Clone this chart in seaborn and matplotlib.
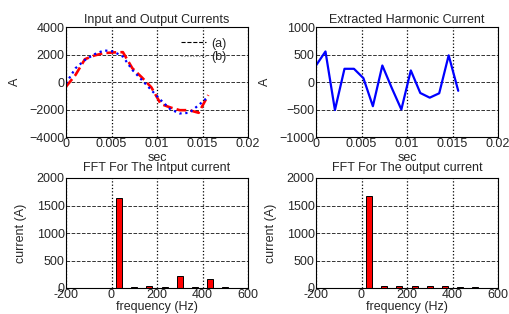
import matplotlib
matplotlib.use("Agg")
import matplotlib.pyplot as plt
from matplotlib.lines import Line2D
import seaborn as sns

# samples (16 per cycle at 60 Hz)
t = [0.0, 0.00104, 0.00208, 0.00313, 0.00417, 0.00521, 0.00625, 0.00729,
     0.00833, 0.00938, 0.01042, 0.01146, 0.0125, 0.01354, 0.01458, 0.01563]
i_a = [-340, 510, 1660, 1930, 2100, 2150, 2170, 1000,
       340, -390, -1600, -1850, -2050, -2050, -2240, -950]
i_b = [-100, 1000, 1600, 2020, 2300, 2220, 1850, 880,
       150, -590, -1320, -1980, -2290, -2240, -1680, -1070]
i_h = [300, 555, -510, 240, 240, 70, -440, 300,
       -110, -500, 210, -200, -285, -205, 485, -160]

freq = [33, 100, 167, 233, 300, 367, 433, 500]
fft_in = [1640, 10, 35, 10, 210, 10, 160, 10]
fft_out = [1680, 35, 35, 35, 45, 35, 25, 25]

sns.set_style("white")
plt.rcParams['font.family'] = ['Liberation Sans', 'DejaVu Sans']
fs = 9

fig = plt.figure(figsize=(5.1, 3.14), dpi=100)
w, h = 182 / 510, 110 / 314
ax1 = fig.add_axes([66 / 510, 1 - 137 / 314, w, h])
ax2 = fig.add_axes([316 / 510, 1 - 137 / 314, w, h])
ax3 = fig.add_axes([66 / 510, 1 - 288 / 314, w, h])
ax4 = fig.add_axes([316 / 510, 1 - 288 / 314, w, h])


def style(ax):
    for s in ax.spines.values():
        s.set_color('black')
        s.set_linewidth(0.8)
    ax.tick_params(direction='in', length=2, width=0.6, pad=1, labelsize=fs)
    ax.xaxis.grid(True, linestyle=':', color='black', linewidth=0.9)
    ax.yaxis.grid(True, linestyle='--', color='#333333', linewidth=0.7)
    ax.set_axisbelow(True)


# input / output currents
sns.lineplot(x=t, y=i_a, ax=ax1, color='red', linestyle='--', linewidth=1.9, sort=False)
sns.lineplot(x=t, y=i_b, ax=ax1, color='blue', linestyle=':', linewidth=1.6, sort=False)
ax1.set_xlim(0, 0.02)
ax1.set_ylim(-4000, 4000)
ax1.set_xticks([0, 0.005, 0.01, 0.015, 0.02])
ax1.set_xticklabels(['0', '0.005', '0.01', '0.015', '0.02'])
ax1.set_yticks([-4000, -2000, 0, 2000, 4000])
ax1.set_title('Input and Output Currents', fontsize=fs, pad=3)
ax1.set_xlabel('sec', fontsize=fs, labelpad=1)
ax1.set_ylabel('A', fontsize=fs, labelpad=6)
handles = [Line2D([], [], color='black', linestyle='--', linewidth=0.8),
           Line2D([], [], color='#888888', linestyle=':', linewidth=0.8)]
ax1.legend(handles, ['(a)', '(b)'], loc='upper right', frameon=False,
           bbox_to_anchor=(0.91, 0.95), handlelength=2.0, handletextpad=0.4,
           labelspacing=0.15, fontsize=fs, borderaxespad=0)
style(ax1)

# harmonic current
sns.lineplot(x=t, y=i_h, ax=ax2, color='blue', linewidth=1.6, sort=False)
ax2.set_xlim(0, 0.02)
ax2.set_ylim(-1000, 1000)
ax2.set_xticks([0, 0.005, 0.01, 0.015, 0.02])
ax2.set_xticklabels(['0', '0.005', '0.01', '0.015', '0.02'])
ax2.set_yticks([-1000, -500, 0, 500, 1000])
ax2.set_title('Extracted Harmonic Current', fontsize=fs, pad=3)
ax2.set_xlabel('sec', fontsize=fs, labelpad=1)
ax2.set_ylabel('A', fontsize=fs, labelpad=6)
style(ax2)

# FFT bars
for ax, vals, title in [(ax3, fft_in, 'FFT For The Intput current'),
                        (ax4, fft_out, 'FFT For The output current')]:
    sns.barplot(x=freq, y=vals, ax=ax, native_scale=True, width=0.4,
                color='red', saturation=1, edgecolor='black', linewidth=0.7)
    ax.set_xlim(-200, 600)
    ax.set_ylim(0, 2000)
    ax.set_xticks([-200, 0, 200, 400, 600])
    ax.set_xticklabels(['-200', '0', '200', '400', '600'])
    ax.set_yticks([0, 500, 1000, 1500, 2000])
    ax.set_title(title, fontsize=fs, pad=5)
    ax.set_xlabel('frequency (Hz)', fontsize=fs, labelpad=0)
    ax.set_ylabel('current (A)', fontsize=fs, labelpad=7)
    style(ax)

fig.savefig('out.png', dpi=100)
